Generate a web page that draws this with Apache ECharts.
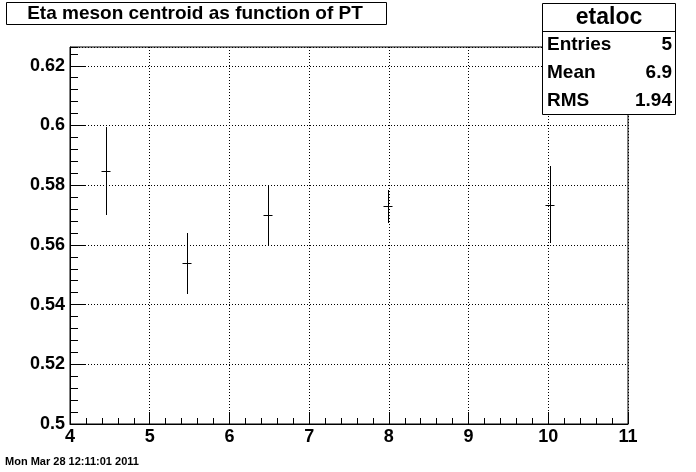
<!DOCTYPE html>
<html>
<head>
<meta charset="utf-8">
<script src="https://cdn.jsdelivr.net/npm/echarts@6/dist/echarts.min.js"></script>
<style>
html,body{margin:0;padding:0;background:#fff;}
#c{width:696px;height:472px;}
</style>
</head>
<body>
<div id="c"></div>
<script>
// Data
var ptValues = [4.45, 5.47, 6.48, 7.99, 10.02];
var centroid = [0.5847, 0.5538, 0.5700, 0.5730, 0.5734];
var errLow = [0.5701, 0.5437, 0.5600, 0.5674, 0.5605];
var errHigh = [0.5995, 0.5640, 0.5801, 0.5784, 0.5864];

var titleText = 'Eta meson centroid as function of PT';
var statsName = 'etaloc';
var statsLabels = ['Entries', 'Mean', 'RMS'];
var statsValues = ['5', '6.9', '1.94'];
var dateText = 'Mon Mar 28 12:11:01 2011';

var xMin = 4, xMax = 11, xStep = 1;
var yMin = 0.5, yMax = 0.6263, yStep = 0.02, yMinorStep = 0.004;

var seriesData = ptValues.map(function (x, i) {
  return [x, centroid[i], errLow[i], errHigh[i]];
});

var FONT = '"Liberation Sans", Arial, Helvetica, sans-serif';
var chart = echarts.init(document.getElementById('c'), null, {renderer: 'canvas'});

function isMajor(v) {
  var r = v / yStep;
  return Math.abs(r - Math.round(r)) < 1e-6;
}

var option = {
  animation: false,
  backgroundColor: '#fff',
  grid: {
    left: 70, right: 68, top: 47, bottom: 48,
    show: true, borderColor: '#000', borderWidth: 1, backgroundColor: '#fff'
  },
  xAxis: {
    type: 'value', min: xMin, max: xMax, interval: xStep,
    axisLine: {show: true, lineStyle: {color: '#000', width: 1}},
    axisTick: {show: true, inside: true, length: 12, lineStyle: {color: '#000'}},
    minorTick: {show: true, splitNumber: 5, length: 6, lineStyle: {color: '#000'}},
    splitLine: {show: true, lineStyle: {color: '#000', type: [1, 2], width: 1}},
    axisLabel: {color: '#000', fontFamily: FONT, fontWeight: 'bold', fontSize: 18, margin: 4}
  },
  yAxis: [{
    type: 'value', min: yMin, max: yMax, interval: yStep,
    axisLine: {show: true, lineStyle: {color: '#000', width: 1}},
    axisTick: {show: true, inside: true, length: 16, lineStyle: {color: '#000'}},
    splitLine: {show: true, lineStyle: {color: '#000', type: [1, 2], width: 1}},
    axisLabel: {
      color: '#000', fontFamily: FONT, fontWeight: 'bold', fontSize: 18, margin: 5,
      showMaxLabel: false,
      formatter: function (v) { return isMajor(v) ? String(+v.toFixed(4)) : ''; }
    }
  }, {
    type: 'value', min: yMin, max: yMax, interval: yMinorStep, position: 'left', offset: 0,
    axisLine: {show: false},
    axisTick: {show: true, inside: true, length: 8, lineStyle: {color: '#000'}},
    splitLine: {show: false},
    axisLabel: {show: false}
  }],
  series: [{
    type: 'custom',
    xAxisIndex: 0, yAxisIndex: 0,
    data: seriesData,
    clip: false,
    renderItem: function (params, api) {
      var c = api.coord([api.value(0), api.value(1)]);
      var lo = api.coord([api.value(0), api.value(2)]);
      var hi = api.coord([api.value(0), api.value(3)]);
      var px = Math.round(c[0]) + 0.5;
      var py = Math.round(c[1]) + 0.5;
      var st = {stroke: '#000', lineWidth: 1};
      return {
        type: 'group',
        children: [
          {type: 'line', shape: {x1: px, y1: Math.round(hi[1]), x2: px, y2: Math.round(lo[1])}, style: st},
          {type: 'line', shape: {x1: px - 5, y1: py, x2: px + 4, y2: py}, style: st}
        ]
      };
    }
  }],
  graphic: [
    {type: 'rect', z: 100, shape: {x: 6.5, y: 2.5, width: 380, height: 22}, style: {fill: '#fff', stroke: '#000', lineWidth: 1}},
    {type: 'text', z: 101, x: 195, y: 14, style: {text: titleText, fill: '#000', font: 'bold 19px ' + FONT, textAlign: 'center', textVerticalAlign: 'middle'}},
    {type: 'rect', z: 100, shape: {x: 542.5, y: 3.5, width: 133, height: 111}, style: {fill: '#fff', stroke: '#000', lineWidth: 1}},
    {type: 'line', z: 101, shape: {x1: 542.5, y1: 31.5, x2: 675.5, y2: 31.5}, style: {stroke: '#000', lineWidth: 1}},
    {type: 'text', z: 101, x: 609, y: 18, style: {text: statsName, fill: '#000', font: 'bold 23px ' + FONT, textAlign: 'center', textVerticalAlign: 'middle'}},
    {type: 'text', z: 101, x: 547, y: 45, style: {text: statsLabels[0], fill: '#000', font: 'bold 19px ' + FONT, textAlign: 'left', textVerticalAlign: 'middle'}},
    {type: 'text', z: 101, x: 547, y: 73, style: {text: statsLabels[1], fill: '#000', font: 'bold 19px ' + FONT, textAlign: 'left', textVerticalAlign: 'middle'}},
    {type: 'text', z: 101, x: 547, y: 101, style: {text: statsLabels[2], fill: '#000', font: 'bold 19px ' + FONT, textAlign: 'left', textVerticalAlign: 'middle'}},
    {type: 'text', z: 101, x: 672, y: 45, style: {text: statsValues[0], fill: '#000', font: 'bold 19px ' + FONT, textAlign: 'right', textVerticalAlign: 'middle'}},
    {type: 'text', z: 101, x: 672, y: 73, style: {text: statsValues[1], fill: '#000', font: 'bold 19px ' + FONT, textAlign: 'right', textVerticalAlign: 'middle'}},
    {type: 'text', z: 101, x: 672, y: 101, style: {text: statsValues[2], fill: '#000', font: 'bold 19px ' + FONT, textAlign: 'right', textVerticalAlign: 'middle'}},
    {type: 'text', z: 101, x: 5, y: 462, style: {text: dateText, fill: '#000', font: 'bold 11px ' + FONT, textAlign: 'left', textVerticalAlign: 'middle'}}
  ]
};
chart.setOption(option);
</script>
</body>
</html>
